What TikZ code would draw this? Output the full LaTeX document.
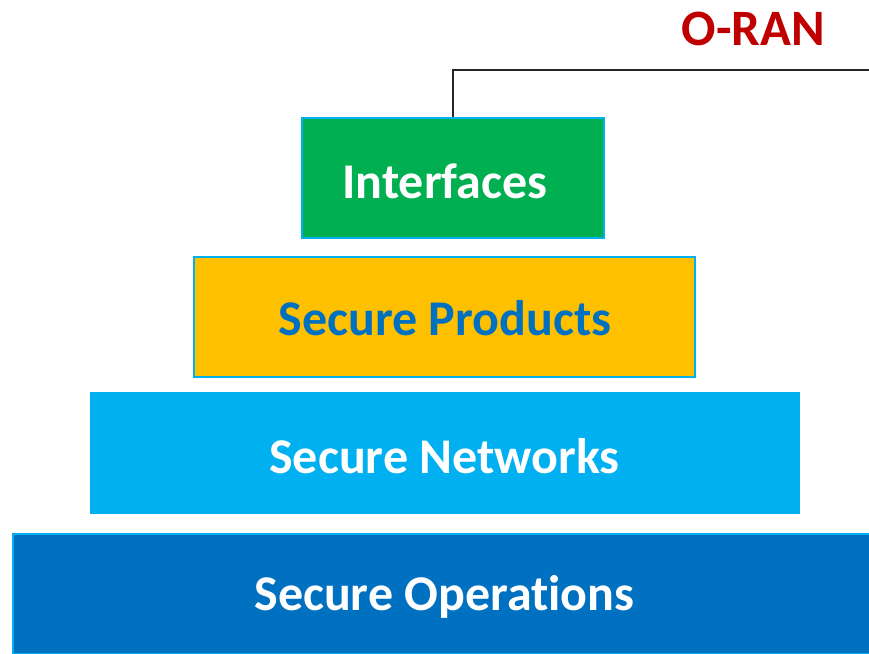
\documentclass[tikz,border=0pt]{standalone}
\usepackage{fontspec}
\setmainfont{Carlito}
\newfontfamily\boxfont[Ligatures=NoCommon]{Carlito}
\definecolor{cgreen}{HTML}{00B050}
\definecolor{ccyan}{HTML}{00B0F0}
\definecolor{cgold}{HTML}{FFC000}
\definecolor{cblue}{HTML}{0070C0}
\definecolor{cred}{HTML}{C00000}
\definecolor{cline}{HTML}{262626}
\begin{document}
\begin{tikzpicture}[x=1pt,y=-1pt,
  layer/.style={draw=ccyan, line width=2pt, inner sep=0pt, minimum height=120pt},
  lbl/.style={font=\boxfont\bfseries\fontsize{50}{52}\selectfont, anchor=base, inner sep=0pt},
  conn/.style={draw=cline, line width=2.4pt}]
\clip (0,0) rectangle (869,653);
\fill[white] (0,0) rectangle (869,653);
% boxes
\node[layer, fill=cgreen, minimum width=302pt] (iface) at (453,178) {};
\node[layer, fill=cgold, minimum width=501pt] (prod) at (444.5,317) {};
\node[layer, draw=ccyan, fill=ccyan, line width=0pt, minimum width=709pt, minimum height=121pt] (netw) at (444.5,452.5) {};
\node[layer, fill=cblue, minimum width=858pt] (oper) at (442,594) {};
% labels
\node[lbl, text=white] (tiface) at (445,198) {Interfaces};
\node[lbl, text=cblue] (tprod) at (445,335) {Secure Products};
\node[lbl, text=white] (tnetw) at (444.5,473) {Secure Networks};
\node[lbl, text=white] (toper) at (444.5,610) {Secure Operations};
\node[font=\bfseries\fontsize{51}{53}\selectfont, text=cred, anchor=base, inner sep=0pt] (oran) at (753.5,45) {O-RAN};
% connector
\coordinate (lend) at (870,70);
\draw[conn] (iface.north) |- (lend);
\end{tikzpicture}
\end{document}
